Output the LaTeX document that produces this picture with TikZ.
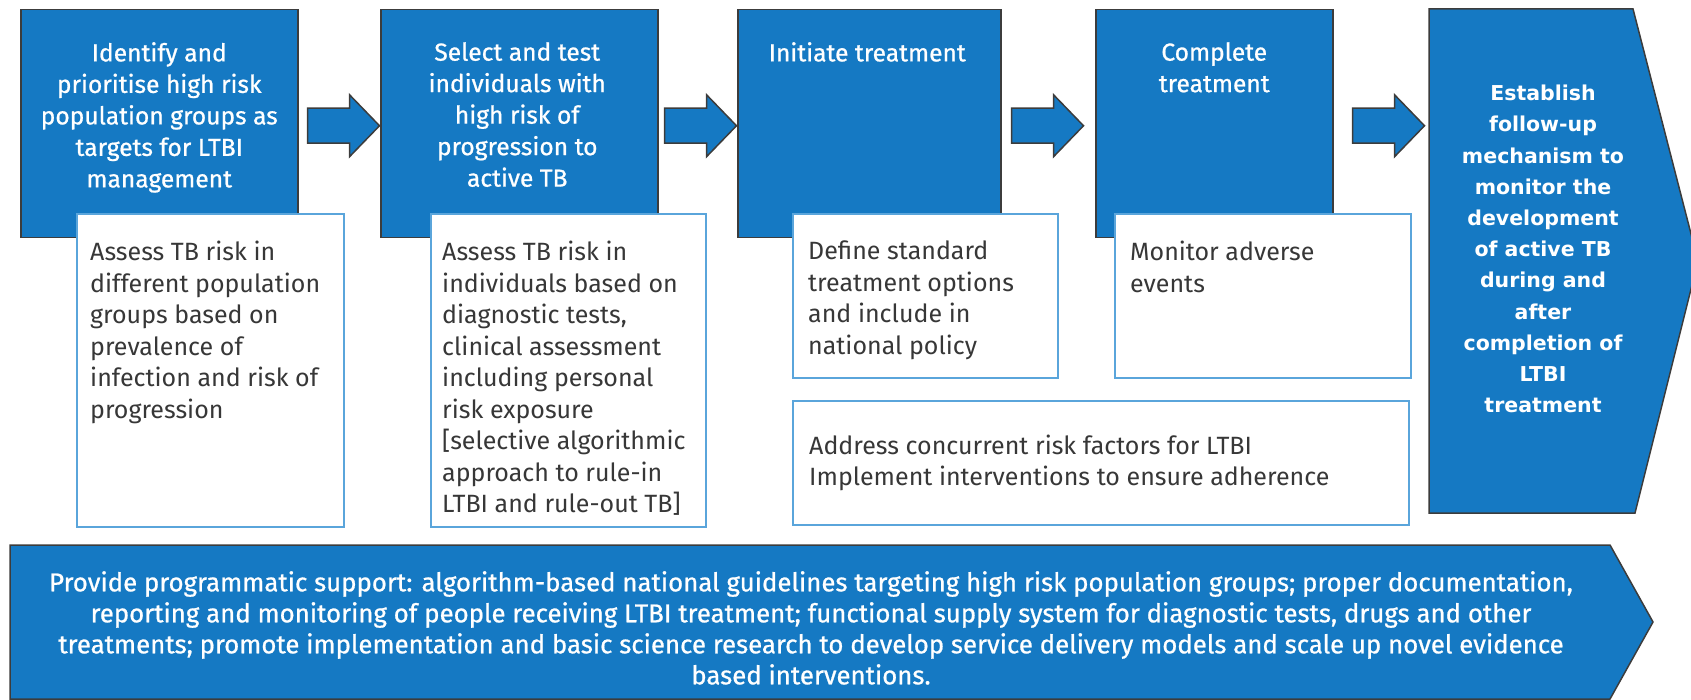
\documentclass[tikz,border=0pt]{standalone}
\usepackage{fontspec}
\setmainfont{Fira Sans}
\newfontfamily\medfont[FakeBold=0.8]{Fira Sans}
\newfontfamily\widebold{DejaVu Sans}
\usetikzlibrary{calc}
\definecolor{tbblue}{RGB}{21,121,195}
\definecolor{edgegray}{RGB}{60,60,60}
\definecolor{lightedge}{RGB}{90,165,219}
\definecolor{txtgray}{RGB}{55,55,55}
\tikzset{
  bluebox/.style={draw=edgegray, line width=1.5pt, fill=tbblue, rectangle, inner sep=0pt, anchor=north west},
  whitebox/.style={draw=lightedge, line width=1.8pt, fill=white, rectangle, inner sep=0pt, anchor=north west},
  bluetext/.style={text=white, align=center, font=\medfont\fontsize{24.6}{31.5}\selectfont, inner sep=0pt, anchor=north},
  graytext/.style={text=txtgray, align=left, font=\fontsize{25}{31.5}\selectfont, inner sep=0pt, anchor=north west},
  boldtext/.style={text=white, align=center, font=\widebold\fontsize{20.5}{31.2}\selectfont\bfseries, inner sep=0pt, anchor=north},
  bannertext/.style={text=white, align=center, font=\medfont\fontsize{25.8}{31}\selectfont, inner sep=0pt, anchor=north},
  bigshape/.style={draw=edgegray, line width=1.5pt, fill=tbblue, line join=miter},
  pics/barrow/.style={code={
    \draw[bigshape] (0,-17.5) -- (42,-17.5) -- (42,-31) -- (72,0) -- (42,31) -- (42,17.5) -- (0,17.5) -- cycle;}}
}
\begin{document}
\begin{tikzpicture}[x=1pt,y=-1pt]
\path[use as bounding box] (0,0) rectangle (1691,700);
\clip (0,0) rectangle (1691,700);
% blue step boxes
\node[bluebox, minimum width=277pt, minimum height=228pt] (b1) at (20,9) {};
\node[bluebox, minimum width=277pt, minimum height=228pt] (b2) at (380,9) {};
\node[bluebox, minimum width=263pt, minimum height=228pt] (b3) at (737,9) {};
\node[bluebox, minimum width=237pt, minimum height=228pt] (b4) at (1095,9) {};
% last step (pentagon)
\draw[bigshape] (1429,9) coordinate (b5nw) -- (1633,9) -- (1698,261) coordinate (b5tip) -- (1635,513) -- (1429,513) coordinate (b5sw) -- cycle;
% block arrows
\pic at ($(b1.east)+(9,2)$) {barrow};
\pic at ($(b2.east)+(6,2)$) {barrow};
\pic at ($(b3.east)+(10,2)$) {barrow};
\pic at ($(b4.east)+(19,2)$) {barrow};
% white boxes
\node[whitebox, minimum width=267pt, minimum height=313pt] (w1) at (76,213) {};
\node[whitebox, minimum width=275pt, minimum height=313pt] (w2) at (430,213) {};
\node[whitebox, minimum width=265pt, minimum height=164pt] (w3) at (792,213) {};
\node[whitebox, minimum width=296pt, minimum height=164pt] (w4) at (1114,213) {};
\node[whitebox, minimum width=616pt, minimum height=124pt] (w5) at (792,400) {};
% banner
\draw[bigshape] (10,545) coordinate (bannw) -- (1610,545) -- (1653,622) coordinate (bantip) -- (1610,699) -- (10,699) -- cycle;
% texts in blue boxes
\node[bluetext] (t1) at ($(b1.north)+(0,33)$) {Identify and\\prioritise high risk\\population groups as\\targets for LTBI\\management};
\node[bluetext] (t2) at ($(b2.north)+(-2,33)$) {Select and test\\individuals with\\high risk of\\progression to\\active TB};
\node[bluetext] (t3) at ($(b3.north)+(-2,33)$) {Initiate treatment};
\node[bluetext] (t4) at ($(b4.north)+(0,33)$) {Complete\\treatment};
\node[boldtext] (t5) at (1543,85) {Establish\\follow-up\\mechanism to\\monitor the\\development\\of active TB\\during and\\after\\completion of\\LTBI\\treatment};
% texts in white boxes
\node[graytext] (s1) at ($(w1.north west)+(14,28)$) {Assess TB risk in\\different population\\groups based on\\prevalence of\\infection and risk of\\progression};
\node[graytext] (s2) at ($(w2.north west)+(12,28)$) {Assess TB risk in\\individuals based on\\diagnostic tests,\\clinical assessment\\including personal\\risk exposure\\{[}selective algorithmic\\approach to rule-in\\LTBI and rule-out TB{]}};
\node[graytext] (s3) at ($(w3.north west)+(16,28)$) {Define standard\\treatment options\\and include in\\national policy};
\node[graytext] (s4) at ($(w4.north west)+(16,28)$) {Monitor adverse\\events};
\node[graytext, anchor=west] (s5) at ($(w5.west)+(17,0)$) {Address concurrent risk factors for LTBI\\Implement interventions to ensure adherence};
% banner text
\node[bannertext] (s6) at (811,571) {Provide programmatic support: algorithm-based national guidelines targeting high risk population groups; proper documentation,\\reporting and monitoring of people receiving LTBI treatment; functional supply system for diagnostic tests, drugs and other\\treatments; promote implementation and basic science research to develop service delivery models and scale up novel evidence\\based interventions.};
\end{tikzpicture}
\end{document}
